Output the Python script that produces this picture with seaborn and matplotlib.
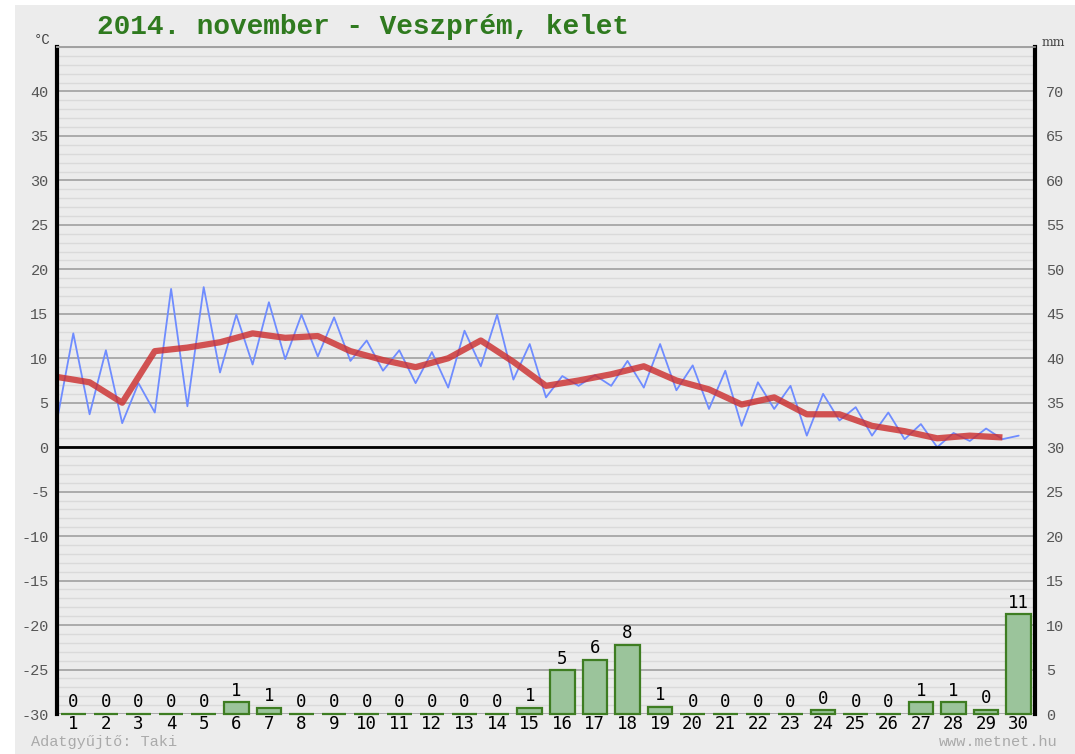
import numpy as np
import matplotlib
matplotlib.use("Agg")
import matplotlib.pyplot as plt
from matplotlib.patches import Rectangle
from matplotlib.ticker import MultipleLocator
import seaborn as sns

# Daily data, 2014 November, Veszprém
days = list(range(1, 31))

# half-daily temperatures (alternating low / high), °C
temp_halfday = [3.0, 12.8, 3.7, 10.9, 2.7, 7.2, 3.9, 17.8, 4.6, 18.0,
                8.4, 14.9, 9.3, 16.3, 9.9, 14.9, 10.2, 14.6, 9.7, 12.0,
                8.6, 10.9, 7.2, 10.7, 6.7, 13.1, 9.1, 14.9, 7.6, 11.6,
                5.6, 8.0, 6.9, 8.1, 6.9, 9.7, 6.7, 11.6, 6.4, 9.2,
                4.3, 8.6, 2.4, 7.3, 4.3, 6.9, 1.3, 6.0, 3.0, 4.5,
                1.3, 3.9, 0.9, 2.6, 0.0, 1.6, 0.7, 2.1, 0.9, 1.3]

# daily mean temperature, °C
temp_mean = [7.9, 7.3, 5.0, 10.8, 11.2, 11.8, 12.8, 12.3, 12.5, 10.8,
             9.8, 9.0, 10.0, 12.0, 9.6, 6.9, 7.5, 8.2, 9.1, 7.5,
             6.5, 4.8, 5.6, 3.7, 3.7, 2.4, 1.8, 1.0, 1.3, 1.1]

# daily precipitation, mm
precip = [0, 0, 0, 0, 0, 1.3, 0.7, 0, 0, 0,
          0, 0, 0, 0, 0.7, 4.9, 6.1, 7.8, 0.8, 0,
          0, 0, 0, 0.4, 0, 0, 1.3, 1.3, 0.45, 11.2]
precip_labels = ["0", "0", "0", "0", "0", "1", "1", "0", "0", "0",
                 "0", "0", "0", "0", "1", "5", "6", "8", "1", "0",
                 "0", "0", "0", "0", "0", "0", "1", "1", "0", "11"]

temp_ticks = list(range(-30, 41, 5))
mm_ticks = list(range(0, 71, 5))

mono = "Liberation Mono"
bg = "#ececec"

sns.set_theme(style="white")
plt.rcParams["font.family"] = ["DejaVu Sans Mono", "DejaVu Sans"]

fig = plt.figure(figsize=(10.75, 7.54), dpi=100, facecolor="white")
fig.patches.append(Rectangle((15 / 1075, 0), 1, 1 - 5 / 754, transform=fig.transFigure,
                             facecolor=bg, edgecolor="none", zorder=-10))

ax = fig.add_axes([57 / 1075, 1 - 714 / 754, 978 / 1075, 667 / 754])
ax.set_facecolor(bg)
ax2 = ax.twinx()

# bars on the mm axis, one per day
bar_x = np.array(days) - 1
sns.barplot(x=bar_x, y=precip, ax=ax2, native_scale=True, width=0.76,
            color="#9bc49b", saturation=1, edgecolor="#3e7d22", linewidth=1.6)
for p in ax2.containers[0]:
    p.set_clip_on(False)  # keep the flat zero bars visible on the bottom edge
ax2.bar_label(ax2.containers[0], labels=precip_labels, padding=2,
              fontsize=12.5, color="black", family="DejaVu Sans Mono")

# temperature lines
half_x = np.arange(len(temp_halfday)) / 2 - 0.5
mean_x = np.array(days) - 1.5
sns.lineplot(x=half_x, y=temp_halfday, ax=ax, color="#6f8cff", lw=1.3, sort=False)
sns.lineplot(x=mean_x, y=temp_mean, ax=ax, color="#cc3030", lw=4.5, alpha=0.82,
             sort=False, solid_capstyle="butt")
ax.axhline(0, color="black", lw=2, zorder=3)

# axes and grid
ax.set_xlim(-0.5, 29.5)
ax.set_ylim(-30, 45)
ax2.set_ylim(0, 75)
ax.yaxis.set_minor_locator(MultipleLocator(1))
ax.set_axisbelow(True)
ax.grid(which="minor", axis="y", color="#dadada", lw=1.0)
ax.grid(which="major", axis="y", color="#a0a0a0", lw=1.2)
ax.grid(which="both", axis="x", visible=False)

ax.set_yticks(temp_ticks)
ax.set_yticklabels([str(t) for t in temp_ticks], family=mono, fontsize=11, color="#555555")
ax2.set_yticks(mm_ticks)
ax2.set_yticklabels([str(t) for t in mm_ticks], family=mono, fontsize=11, color="#555555")
ax.set_xticks(bar_x)
ax.set_xticklabels([str(d) for d in days], fontsize=12.5, color="black",
                   family="DejaVu Sans Mono")
ax2.set_xlabel("")
ax2.set_ylabel("")
ax.tick_params(axis="y", which="both", length=0, pad=6)
ax2.tick_params(axis="y", which="both", length=0, pad=8)
ax.tick_params(axis="x", length=0, pad=1)

for a in (ax, ax2):
    a.spines["top"].set_color("#a0a0a0")
    a.spines["top"].set_linewidth(1.2)
    a.spines["bottom"].set_visible(False)
ax.spines["left"].set_color("black")
ax.spines["left"].set_linewidth(3)
ax.spines["right"].set_visible(False)
ax2.spines["left"].set_visible(False)
ax2.spines["right"].set_color("black")
ax2.spines["right"].set_linewidth(3)

# titles and footer
fig.text(97 / 1075, 1 - 27 / 754, "2014. november - Veszprém, kelet", family=mono,
         fontsize=20, fontweight="bold", color="#2f7a1f", va="center", ha="left")
fig.text(42 / 1075, 1 - 40 / 754, "°C", family=mono, fontsize=10, color="#444444",
         ha="center", va="center")
fig.text(1053 / 1075, 1 - 43 / 754, "mm", family="DejaVu Serif", fontsize=9, color="#444444",
         ha="center", va="center")
fig.text(31 / 1075, 1 - 742 / 754, "Adatgyűjtő: Taki", family=mono, fontsize=11,
         color="#aaaaaa", ha="left", va="center")
fig.text(1058 / 1075, 1 - 742 / 754, "www.metnet.hu", family=mono, fontsize=11,
         color="#aaaaaa", ha="right", va="center")

fig.savefig("out.png", dpi=100, facecolor=fig.get_facecolor())
